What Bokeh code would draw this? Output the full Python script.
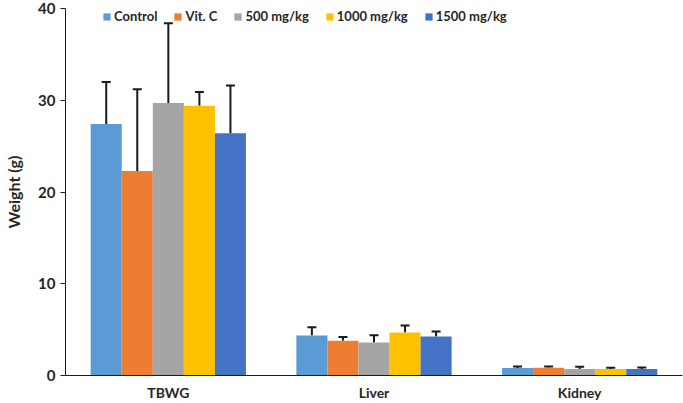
from bokeh.plotting import figure
from bokeh.models import ColumnDataSource, FactorRange, Range1d, FixedTicker, Whisker, TeeHead, Legend, LegendItem
from bokeh.transform import dodge
from bokeh.embed import file_html
from bokeh.resources import INLINE

categories = ["TBWG", "Liver", "Kidney"]
series_names = ["Control", "Vit. C", "500 mg/kg", "1000 mg/kg", "1500 mg/kg"]
control = [27.4, 4.35, 0.83]
control_err = [4.6, 0.9, 0.15]
vitc = [22.3, 3.8, 0.85]
vitc_err = [8.9, 0.4, 0.12]
mg500 = [29.7, 3.6, 0.7]
mg500_err = [8.7, 0.8, 0.25]
mg1000 = [29.4, 4.7, 0.7]
mg1000_err = [1.5, 0.75, 0.15]
mg1500 = [26.4, 4.25, 0.72]
mg1500_err = [5.2, 0.55, 0.15]
y_ticks = [0, 10, 20, 30, 40]

values = [control, vitc, mg500, mg1000, mg1500]
errors = [control_err, vitc_err, mg500_err, mg1000_err, mg1500_err]
colors = ["#5B9BD5", "#ED7D31", "#A5A5A5", "#FFC000", "#4472C4"]

FONT = "Lato"
TXT = "#262626"

p = figure(x_range=FactorRange(*categories, range_padding=0), y_range=Range1d(0, 40),
           width=683, height=403, output_backend="svg", toolbar_location=None,
           min_border_top=8, min_border_right=1, min_border_left=65, min_border_bottom=28)
p.outline_line_color = None
p.xgrid.grid_line_color = None
p.ygrid.grid_line_color = None

bw = 0.151
offsets = [-2 * bw, -bw, 0, bw, 2 * bw]
items = []
for name, vals, errs, col, off in zip(series_names, values, errors, colors, offsets):
    src = ColumnDataSource(dict(cat=categories, val=vals,
                                upper=[v + e for v, e in zip(vals, errs)]))
    r = p.vbar(x=dodge("cat", off, range=p.x_range), top="val", width=bw, source=src,
               fill_color=col, line_color=None)
    w = Whisker(base=dodge("cat", off, range=p.x_range), lower="val", upper="upper", source=src,
                line_color="#1a1a1a", line_width=2,
                lower_head=None,
                upper_head=TeeHead(size=9, line_width=2, line_color="#1a1a1a"))
    p.add_layout(w)
    items.append(LegendItem(label=name, renderers=[r]))

legend = Legend(items=items, orientation="horizontal", location=(37, 351),
                background_fill_alpha=0, border_line_color=None,
                label_text_font=FONT, label_text_font_style="bold", label_text_font_size="13px",
                label_text_color=TXT, glyph_width=9, glyph_height=9, label_standoff=3,
                spacing=16, padding=0, margin=0, label_height=16)
p.add_layout(legend)

p.yaxis.ticker = FixedTicker(ticks=y_ticks)
p.yaxis.minor_tick_line_color = None
p.yaxis.major_tick_out = 5
p.yaxis.major_tick_in = 0
p.yaxis.axis_label = "Weight (g)"
p.yaxis.axis_label_text_font = FONT
p.yaxis.axis_label_text_font_style = "bold"
p.yaxis.axis_label_text_font_size = "16px"
p.yaxis.axis_label_text_color = TXT
p.yaxis.axis_label_standoff = 12
p.yaxis.major_label_text_font = FONT
p.yaxis.major_label_text_font_style = "bold"
p.yaxis.major_label_text_font_size = "15px"
p.yaxis.major_label_text_color = TXT
p.yaxis.major_label_standoff = 5
p.yaxis.axis_line_color = "#1a1a1a"
p.yaxis.major_tick_line_color = "#1a1a1a"

p.xaxis.major_tick_line_color = None
p.xaxis.minor_tick_line_color = None
p.xaxis.major_label_text_font = FONT
p.xaxis.major_label_text_font_style = "bold"
p.xaxis.major_label_text_font_size = "14px"
p.xaxis.major_label_text_color = TXT
p.xaxis.major_label_standoff = 2
p.xaxis.axis_line_color = "#1a1a1a"

open("out.html", "w").write(file_html(p, INLINE))
